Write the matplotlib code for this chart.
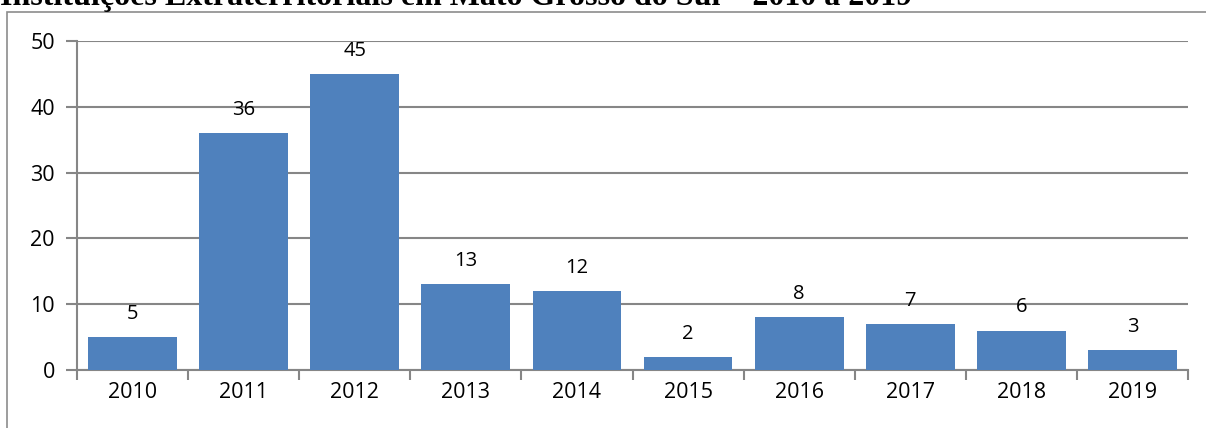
import matplotlib.pyplot as plt
from matplotlib.patches import Rectangle

anos = ['2010', '2011', '2012', '2013', '2014', '2015', '2016', '2017', '2018', '2019']
valores = [5, 36, 45, 13, 12, 2, 8, 7, 6, 3]
y_ticks = [0, 10, 20, 30, 40, 50]
titulo = 'Instituições Extraterritoriais em Mato Grosso do Sul – 2010 a 2019'

W, H = 1206, 428
fig = plt.figure(figsize=(W / 100, H / 100), dpi=100)

# moldura do gráfico (cortada à direita e embaixo)
fig.patches.append(Rectangle((7 / W, -0.1), 1.2, 1 - 12 / H + 0.1, transform=fig.transFigure,
                             fill=False, edgecolor='#8c8c8c', linewidth=1.2))

# título cortado no topo, como no original
fig.text(0, 1 - 5 / H, titulo, family='Liberation Serif', weight='bold', fontsize=23,
         va='baseline', ha='left')

ax = fig.add_axes([77 / W, 1 - 370 / H, (1188 - 77) / W, (370 - 41) / H])
x = range(len(anos))
bars = ax.bar(x, valores, width=0.8, color='#4F81BD', zorder=3)
for b, v in zip(bars, valores):
    ax.annotate(str(v), (b.get_x() + b.get_width() / 2, v), xytext=(0, 9.5), textcoords='offset points',
                ha='center', va='bottom', fontsize=14.5, family='Open Sans')

ax.set_xlim(-0.5, len(anos) - 0.5)
ax.set_ylim(0, 50)
ax.set_yticks(y_ticks)
ax.set_yticklabels([str(t) for t in y_ticks], family='Open Sans', fontsize=15.5)
ax.set_xticks(x)
ax.set_xticklabels(anos, family='Open Sans', fontsize=15.5)
ax.set_xticks([i - 0.5 for i in range(len(anos) + 1)], minor=True)
ax.tick_params(axis='x', which='major', length=0, pad=9)
ax.tick_params(axis='x', which='minor', length=7, width=1.5, color='#868686')
ax.tick_params(axis='y', length=8, width=1.5, color='#868686', pad=8)
ax.grid(axis='y', color='#868686', linewidth=1.5, zorder=0)
for s in ['top', 'right']:
    ax.spines[s].set_visible(False)
for s in ['left', 'bottom']:
    ax.spines[s].set_color('#868686')
    ax.spines[s].set_linewidth(1.5)

fig.savefig('out.png', dpi=100)
